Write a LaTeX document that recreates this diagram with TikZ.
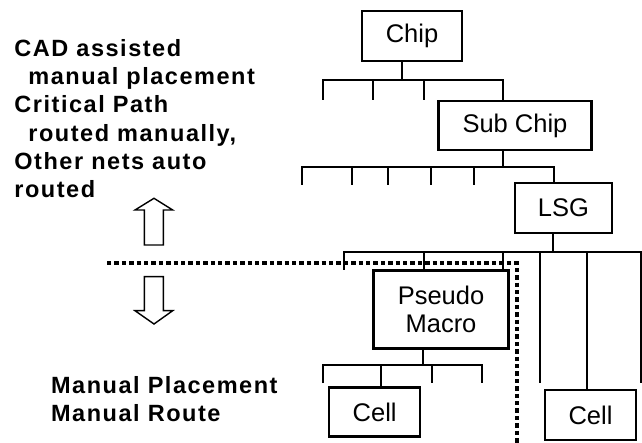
\documentclass[tikz,border=0pt]{standalone}
\usepackage{fontspec}
\setmainfont{Liberation Sans}
\newfontfamily\notefont[LetterSpace=6.5]{Liberation Sans Bold}
\usetikzlibrary{positioning, calc}
\tikzset{
  every picture/.style={x=1pt, y=-1pt, line width=2.3pt},
  box/.style={draw, fill=white, align=center, inner sep=0pt, font=\fontsize{25.5}{28.3}\selectfont},
  tree/.style={line width=2.6pt},
  border/.style={line width=4pt, dash pattern=on 4.4pt off 3pt},
  hollow/.style={draw, line width=1.4pt, fill=white},
  note/.style={font=\notefont\fontsize{23.5}{28.3}\selectfont, align=left, inner sep=0pt, anchor=north west},
}

\begin{document}
\begin{tikzpicture}
  \useasboundingbox (0,0) rectangle (642,443);
  % boxes
  \node[box, minimum width=100, minimum height=50] (chip) at (412,36) {Chip};
  \node[box, minimum width=153, minimum height=49] (subchip) at (515,125.5) {Sub Chip};
  \node[box, minimum width=97, minimum height=50] (lsg) at (563.5,208) {LSG};
  \node[box, minimum width=135, minimum height=78] (pseudo) at (441,309.5) {Pseudo\\Macro};
  \node[box, minimum width=91, minimum height=49] (cellA) at (374.7,412) {Cell};
  \node[box, minimum width=91, minimum height=50] (cellB) at (590.5,415) {Cell};
  % chip level
  \coordinate (chipbar) at (402,80);
  \draw[tree] (chip.south -| chipbar) -- (chipbar);
  \draw[tree] (323,100) |- (503,80) -- (subchip.north -| 503,0);
  \foreach \x in {373,424} \draw[tree] (\x,80) -- (\x,100);
  % sub chip level
  \coordinate (subbar) at (503,167);
  \draw[tree] (subchip.south -| subbar) -- (subbar);
  \draw[tree] (302,185) |- (554,167) -- (lsg.north -| 554,0);
  \foreach \x in {352,388,431,474} \draw[tree] (\x,167) -- (\x,185);
  % lsg level
  \coordinate (lsgbar) at (553,252);
  \draw[tree] (lsg.south -| lsgbar) -- (lsgbar);
  \draw[tree] (344,270) |- (641,252) -- (641,383);
  \draw[tree] (424,252) -- (pseudo.north -| 424,0);
  \draw[tree] (503,252) -- (503,270);
  \draw[tree] (540,252) -- (540,383);
  \draw[tree] (587,252) -- (cellB.north -| 587,0);
  % pseudo macro level
  \coordinate (pmbar) at (423,365);
  \draw[tree] (pseudo.south -| pmbar) -- (pmbar);
  \draw[tree] (323,383) |- (482,365) -- (482,383);
  \draw[tree] (381,365) -- (cellA.north -| 381,0);
  \draw[tree] (432,365) -- (432,383);
  % boundary
  \draw[border] (107,263.5) -| (517,443);
  % arrows
  \draw[hollow] (154,198.3) -- (172.7,210) -- (163.3,210) -- (163.3,245)
    -- (144.3,245) -- (144.3,210) -- (135,210) -- cycle;
  \draw[hollow] (154,324) -- (172.7,310.7) -- (163.3,310.7) -- (163.3,276.7)
    -- (144.3,276.7) -- (144.3,310.7) -- (135,310.7) -- cycle;
  % notes
  \node[note] (upper) at (13.3,38) {CAD assisted\\\hspace*{14pt}manual placement\\Critical Path\\\hspace*{14pt}routed manually,\\Other nets auto\\routed};
  \node[note] (lower) at (50,375) {Manual Placement\\Manual Route};
\end{tikzpicture}
\end{document}
